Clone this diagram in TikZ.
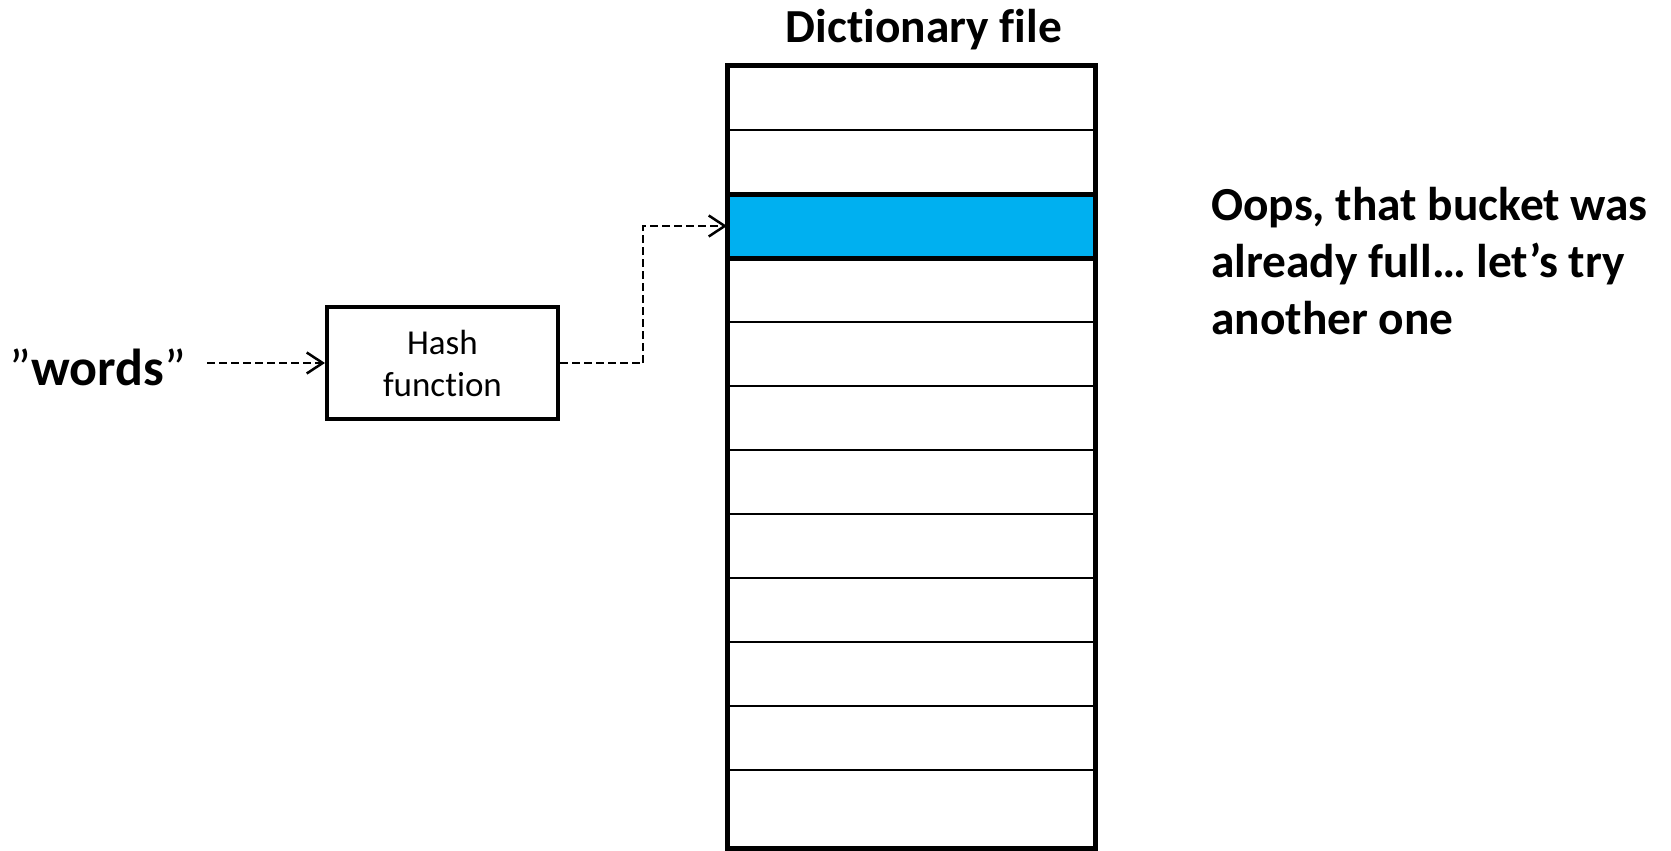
\documentclass[tikz,border=0pt]{standalone}
\usepackage{fontspec}
\setmainfont{Carlito}[Ligatures=NoCommon]
\usetikzlibrary{arrows.meta}
\definecolor{bucketblue}{HTML}{00B0F0}

\begin{document}
\begin{tikzpicture}[x=1pt, y=-1pt,
  slot/.style={draw, line width=2.5pt, minimum width=368pt, minimum height=64pt,
               inner sep=0pt, outer sep=0pt},
  fullslot/.style={slot, fill=bucketblue, line width=5pt},
  hashbox/.style={draw, line width=4pt, minimum width=231pt, minimum height=112pt,
                  align=center, inner sep=0pt, font=\fontsize{35}{42}\selectfont},
  bigbold/.style={font=\fontsize{47.4}{57}\selectfont\bfseries, inner sep=0pt},
  flow/.style={line width=2.5pt, dash pattern=on 8pt off 4pt,
               -{Straight Barb[length=16pt, width=21pt, line width=2.5pt]}},
  flowline/.style={line width=2.5pt, dash pattern=on 8pt off 4pt}]
\useasboundingbox (0,0) rectangle (1671,851);

% buckets of the dictionary file
\foreach \k in {0,...,10} {
  \node[slot] (b\k) at (911, {98+64*\k}) {};
}
\node[slot, minimum height=78pt] (b11) at (911, 809) {};
% the bucket that is already taken
\node[fullslot] (full) at (911, 226) {};
% outer frame of the file
\draw[line width=5pt] (727,66) rectangle (1095,848);

\node[bigbold] (title) at (924, 30) {Dictionary file};

% input word and hash function
\node[font=\fontsize{52}{60}\selectfont, inner sep=0pt, anchor=base] (words) at (98, 385)
  {”\textbf{words}”};
\node[hashbox] (hash) at (442.5, 363) {Hash\\function};

\draw[flow, shorten <=21pt] (words.east |- hash.west) -- (hash.west);
\coordinate (bend) at (643, 363);
\draw[flowline] (hash.east) -- (bend);
\draw[flow] (bend) |- (full.west);

% remark beside the file
\node[bigbold, align=left, anchor=base west] (note) at (1211, 334)
  {Oops, that bucket was\\already full… let’s try\\another one};
\end{tikzpicture}
\end{document}
